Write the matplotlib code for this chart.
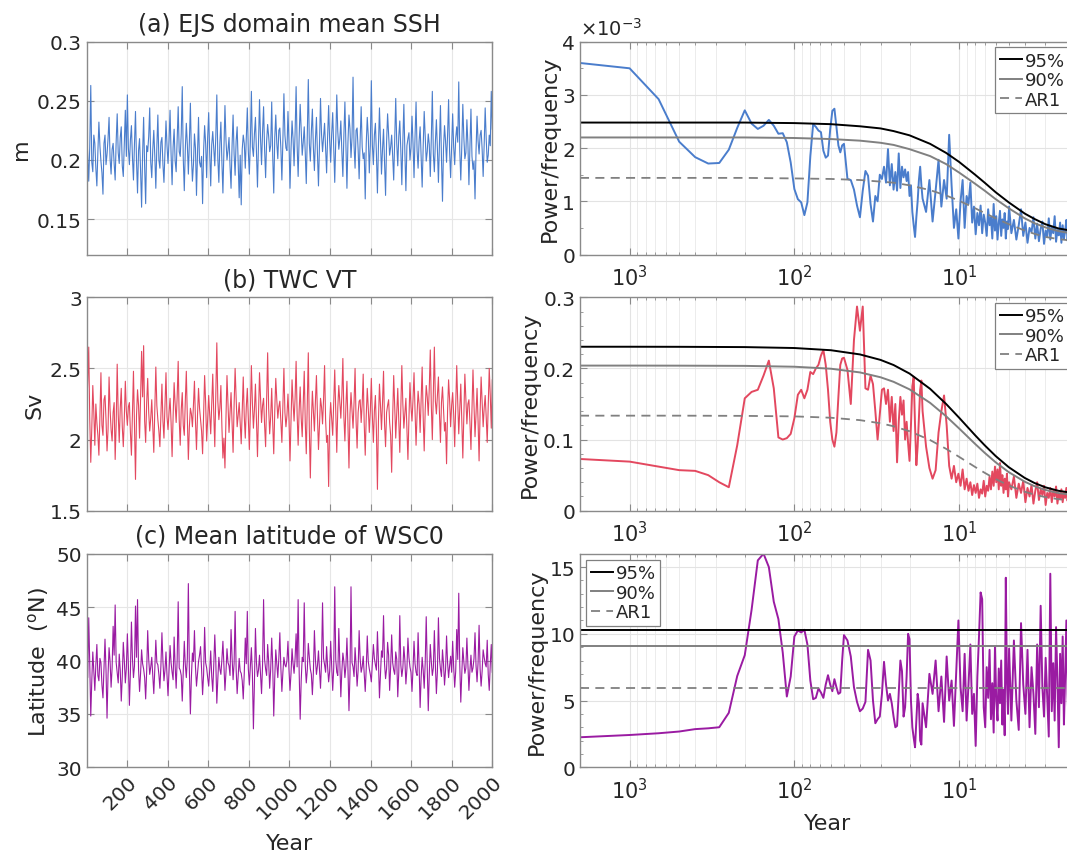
import numpy as np
import matplotlib
matplotlib.use('Agg')
import matplotlib.pyplot as plt
from matplotlib.ticker import MultipleLocator, FixedLocator, FuncFormatter, LogLocator, NullFormatter

# ---- time series (one value per ~5 yr) ----
# (a) EJS domain mean SSH, in mm (divided by 1000 below)
ssh_mm = [225, 204, 182, 211, 263, 198, 190, 221, 214, 193, 178, 207, 232, 212, 199, 189, 171, 214, 221, 196,
          205, 218, 236, 201, 188, 209, 214, 197, 183, 216, 239, 206, 197, 219, 228, 195, 186, 213, 242, 203,
          255, 210, 196, 217, 229, 202, 183, 214, 241, 199, 172, 208, 218, 191, 160, 205, 236, 194, 163, 212,
          207, 220, 244, 198, 185, 209, 225, 203, 176, 211, 238, 200, 193, 215, 219, 196, 181, 206, 233, 212,
          197, 216, 242, 205, 179, 211, 226, 199, 190, 218, 245, 207, 203, 222, 262, 201, 174, 209, 231, 213,
          188, 215, 248, 204, 182, 196, 222, 210, 170, 205, 236, 198, 194, 203, 163, 208, 229, 214, 185, 219,
          240, 206, 178, 213, 224, 209, 195, 220, 255, 201, 181, 214, 232, 198, 172, 211, 246, 217, 200, 208,
          219, 195, 176, 212, 238, 205, 187, 216, 228, 197, 168, 204, 162, 209, 221, 214, 193, 218, 244, 207,
          188, 215, 258, 211, 203, 222, 236, 207, 177, 213, 251, 218, 196, 224, 245, 209, 185, 216, 230, 220,
          207, 212, 249, 203, 172, 219, 238, 214, 201, 225, 227, 210, 183, 217, 256, 221, 210, 208, 241, 215,
          176, 209, 233, 218, 195, 223, 262, 212, 186, 219, 247, 226, 204, 215, 228, 206, 180, 221, 268, 214,
          199, 224, 243, 210, 191, 217, 236, 205, 178, 213, 252, 222, 207, 219, 231, 211, 189, 220, 246, 216,
          198, 222, 240, 210, 181, 216, 255, 224, 209, 218, 233, 207, 186, 221, 249, 213, 176, 215, 238, 226,
          202, 219, 270, 212, 193, 225, 227, 209, 184, 217, 245, 211, 201, 206, 167, 214, 236, 220, 189, 212,
          267, 213, 196, 221, 231, 205, 172, 212, 244, 217, 188, 209, 226, 198, 170, 215, 239, 222, 204, 211,
          221, 203, 183, 219, 252, 214, 195, 220, 233, 208, 179, 216, 247, 206, 174, 212, 218, 223, 200, 210,
          237, 214, 185, 220, 249, 208, 193, 216, 228, 202, 177, 211, 241, 219, 199, 207, 222, 213, 186, 218,
          258, 205, 190, 215, 234, 209, 181, 212, 246, 201, 165, 210, 229, 216, 198, 221, 251, 207, 185, 213,
          239, 211, 196, 218, 228, 215, 266, 208, 183, 212, 247, 219, 201, 206, 234, 214, 179, 210, 243, 203,
          192, 199, 167, 208, 237, 216, 205, 221, 225, 209, 186, 213, 244, 218, 198, 204, 221, 212, 258, 226]

# (b) TWC VT, in 0.01 Sv
twc_csv = [222, 241, 265, 214, 184, 208, 238, 219, 196, 225, 212, 203, 189, 216, 247, 210, 203, 228, 231, 214,
           192, 207, 244, 221, 207, 199, 219, 226, 186, 211, 253, 218, 198, 222, 236, 209, 195, 215, 241, 220,
           210, 223, 226, 205, 189, 218, 248, 211, 172, 217, 235, 224, 201, 229, 262, 230, 266, 213, 198, 226,
           243, 219, 206, 215, 228, 210, 191, 221, 251, 224, 214, 206, 195, 218, 239, 213, 201, 225, 247, 216,
           207, 219, 229, 212, 188, 216, 240, 225, 212, 230, 255, 214, 196, 221, 233, 210, 203, 227, 248, 215,
           186, 209, 222, 218, 209, 224, 241, 213, 193, 217, 236, 222, 214, 206, 190, 219, 245, 226, 199, 214,
           231, 217, 204, 225, 246, 218, 195, 232, 268, 227, 214, 222, 238, 209, 187, 201, 180, 215, 245, 226,
           205, 219, 233, 212, 191, 224, 250, 229, 209, 217, 226, 211, 197, 220, 244, 216, 201, 223, 236, 214,
           193, 219, 252, 226, 208, 221, 239, 214, 188, 218, 247, 229, 212, 224, 229, 210, 195, 227, 261, 222,
           204, 216, 236, 211, 190, 220, 243, 228, 215, 223, 227, 213, 198, 225, 250, 219, 209, 217, 232, 214,
           185, 214, 242, 226, 213, 229, 255, 218, 196, 221, 237, 215, 202, 226, 248, 212, 190, 224, 261, 207,
           173, 212, 234, 220, 206, 227, 245, 217, 193, 210, 229, 223, 211, 228, 252, 214, 198, 203, 167, 213,
           226, 214, 203, 225, 249, 219, 191, 222, 238, 227, 215, 231, 257, 216, 199, 224, 241, 210, 180, 218,
           233, 221, 208, 226, 250, 213, 194, 219, 227, 228, 212, 225, 246, 211, 189, 217, 236, 222, 205, 220,
           243, 217, 198, 220, 231, 206, 165, 213, 239, 224, 207, 226, 248, 211, 195, 219, 224, 228, 212, 203,
           177, 216, 245, 222, 201, 218, 236, 214, 191, 221, 252, 225, 208, 219, 229, 207, 186, 215, 240, 223,
           213, 228, 247, 220, 196, 218, 234, 225, 205, 229, 251, 216, 192, 221, 238, 230, 217, 236, 263, 224,
           200, 233, 265, 227, 218, 231, 244, 219, 198, 226, 237, 222, 206, 212, 183, 220, 242, 228, 209, 224,
           233, 218, 195, 223, 252, 226, 204, 221, 239, 214, 187, 216, 246, 229, 211, 225, 228, 212, 193, 220,
           249, 224, 202, 218, 236, 213, 185, 219, 244, 227, 209, 222, 231, 216, 198, 225, 250, 231, 208, 242]

# (c) mean latitude of WSC0, in 0.1 degN
lat_dd = [392, 384, 440, 397, 348, 381, 408, 389, 372, 396, 415, 386, 381, 402, 398, 377, 365, 394, 420, 391,
          346, 387, 412, 399, 375, 393, 432, 405, 452, 398, 388, 379, 406, 391, 362, 385, 417, 400, 379, 393,
          425, 396, 358, 389, 436, 402, 384, 395, 451, 403, 457, 392, 371, 388, 410, 397, 392, 384, 364, 390,
          428, 401, 387, 394, 403, 386, 369, 392, 419, 398, 396, 387, 374, 395, 426, 399, 381, 391, 408, 386,
          367, 390, 414, 398, 389, 382, 422, 395, 374, 401, 455, 393, 391, 386, 362, 389, 418, 396, 384, 402,
          472, 391, 350, 385, 407, 399, 428, 394, 376, 388, 399, 405, 413, 392, 368, 387, 431, 398, 393, 384,
          376, 391, 409, 385, 371, 396, 424, 399, 360, 383, 403, 392, 387, 401, 418, 394, 372, 389, 411, 398,
          395, 386, 429, 403, 382, 397, 446, 392, 369, 385, 402, 390, 388, 381, 364, 388, 421, 397, 446, 392,
          377, 394, 412, 388, 336, 379, 430, 398, 385, 391, 405, 387, 369, 396, 457, 401, 392, 386, 415, 399,
          374, 392, 421, 395, 348, 384, 410, 397, 384, 402, 426, 393, 371, 389, 403, 396, 394, 400, 418, 391,
          372, 388, 411, 397, 388, 402, 425, 394, 457, 390, 345, 381, 403, 399, 454, 396, 379, 391, 416, 403,
          392, 387, 368, 389, 428, 401, 387, 395, 409, 392, 374, 398, 454, 402, 396, 389, 413, 394, 380, 390,
          418, 396, 372, 393, 469, 401, 389, 386, 430, 397, 366, 390, 407, 399, 384, 395, 421, 392, 353, 387,
          469, 398, 394, 385, 412, 396, 376, 391, 428, 402, 389, 394, 404, 388, 371, 393, 423, 399, 392, 387,
          380, 398, 415, 402, 396, 391, 427, 399, 365, 388, 409, 403, 442, 397, 383, 392, 417, 405, 372, 394,
          424, 398, 391, 387, 408, 401, 366, 389, 442, 396, 385, 393, 413, 400, 378, 392, 421, 403, 394, 389,
          371, 392, 418, 397, 389, 386, 426, 395, 356, 384, 403, 391, 374, 398, 441, 394, 353, 387, 415, 399,
          386, 393, 428, 396, 369, 390, 440, 402, 392, 385, 410, 397, 377, 391, 423, 398, 384, 395, 404, 389,
          418, 394, 375, 390, 429, 401, 463, 396, 361, 388, 412, 399, 388, 393, 421, 397, 372, 391, 405, 389,
          393, 402, 426, 395, 380, 398, 433, 392, 376, 390, 410, 403, 397, 394, 419, 387, 372, 396, 415, 389]

# ---- spectra: harmonic number k of a 2000-yr record (period = 2000/k) ----
harm = np.r_[np.arange(1, 41), np.arange(42, 121, 2), np.arange(126, 403, 6), np.arange(415, 1001, 15)]

# (a) SSH power/frequency, x1e-3
psd_ssh = [3.60, 3.50, 2.92, 2.12, 1.83, 1.71, 1.72, 1.97, 2.38, 2.71,
           2.46, 2.36, 2.42, 2.53, 2.42, 2.27, 2.28, 2.11, 1.73, 1.23,
           1.04, 0.98, 0.74, 0.98, 1.85, 2.45, 2.40, 2.33, 2.30, 1.95,
           1.82, 1.86, 2.35, 2.70, 2.74, 2.40, 2.05, 1.92, 2.05, 2.08,
           1.42, 1.40, 1.22, 0.92, 0.70, 1.20, 1.57, 1.48, 0.95, 0.62,
           1.10, 1.00, 1.50, 1.42, 1.65, 1.35, 1.98, 1.30, 1.70, 1.22,
           1.55, 1.20, 1.90, 1.25, 1.65, 1.45, 1.60, 1.38, 1.55, 1.10,
           1.30, 0.80, 0.55, 0.33, 0.70, 1.00, 1.40, 1.65, 1.30, 1.05,
           0.80, 1.40, 0.62, 1.20, 1.78, 0.90, 1.40, 1.05, 2.25, 1.30,
           0.50, 0.85, 0.30, 1.00, 1.40, 0.50, 1.10, 0.95, 1.35, 0.60,
           0.90, 0.38, 0.78, 0.55, 0.92, 0.40, 0.75, 0.60, 0.35, 0.85,
           0.55, 0.70, 0.30, 0.95, 0.45, 0.72, 0.28, 0.60, 0.82, 0.35,
           0.66, 0.50, 0.78, 0.30, 0.62, 0.48, 0.90,
           0.40, 0.65, 0.28, 0.55, 0.85, 0.35, 0.60, 0.22, 0.50, 0.42,
           0.70, 0.30, 0.58, 0.25, 0.48, 0.62, 0.20, 0.45, 0.33, 0.68,
           0.28, 0.52, 0.40, 0.72, 0.24, 0.46, 0.36, 0.60, 0.22, 0.55,
           0.30, 0.44, 0.65, 0.26, 0.50, 0.38, 0.58, 0.20, 0.45, 0.35]

# (b) TWC power/frequency
psd_twc = [0.0727, 0.069, 0.062, 0.057, 0.056, 0.050, 0.040, 0.033, 0.092, 0.158,
           0.167, 0.170, 0.190, 0.211, 0.172, 0.103, 0.100, 0.102, 0.108, 0.130,
           0.163, 0.170, 0.158, 0.170, 0.195, 0.192, 0.200, 0.205, 0.218, 0.226,
           0.205, 0.170, 0.125, 0.100, 0.090, 0.110, 0.160, 0.205, 0.214, 0.215,
           0.198, 0.150, 0.240, 0.287, 0.253, 0.287, 0.172, 0.170, 0.190, 0.178,
           0.140, 0.100, 0.135, 0.170, 0.172, 0.150, 0.170, 0.125, 0.160, 0.112,
           0.150, 0.068, 0.125, 0.160, 0.135, 0.155, 0.100, 0.125, 0.095, 0.070,
           0.120, 0.175, 0.188, 0.120, 0.064, 0.090, 0.130, 0.170, 0.183, 0.140,
           0.090, 0.060, 0.045, 0.057, 0.110, 0.140, 0.162, 0.120, 0.063, 0.045,
           0.063, 0.040, 0.052, 0.035, 0.058, 0.030, 0.045, 0.028, 0.040, 0.022,
           0.036, 0.025, 0.038, 0.018, 0.030, 0.024, 0.042, 0.020, 0.035, 0.028,
           0.048, 0.030, 0.055, 0.035, 0.062, 0.040, 0.058, 0.030, 0.067, 0.035,
           0.050, 0.025, 0.045, 0.030, 0.052, 0.020, 0.040,
           0.030, 0.048, 0.018, 0.038, 0.025, 0.042, 0.012, 0.032, 0.020, 0.036,
           0.010, 0.028, 0.040, 0.015, 0.030, 0.022, 0.035, 0.008, 0.025, 0.018,
           0.032, 0.012, 0.028, 0.020, 0.034, 0.010, 0.024, 0.016, 0.030, 0.012,
           0.026, 0.018, 0.032, 0.014, 0.025, 0.010, 0.022, 0.028, 0.015, 0.020]

# (c) WSC0 latitude power/frequency
psd_lat = [2.25, 2.42, 2.55, 2.68, 2.86, 2.92, 3.00, 4.08, 6.84, 8.40,
           11.8, 15.5, 16.0, 15.0, 12.4, 11.1, 8.6, 5.3, 6.8, 9.8,
           10.25, 10.1, 10.3, 9.2, 6.5, 5.1, 5.2, 5.9, 5.6, 5.2,
           6.2, 6.9, 6.2, 5.7, 6.6, 6.0, 5.5, 5.6, 8.0, 9.9,
           9.5, 8.3, 6.0, 4.9, 4.2, 4.4, 4.9, 8.8, 8.0, 5.0,
           3.3, 3.6, 3.8, 5.5, 7.9, 6.2, 5.0, 5.5, 4.8, 3.8,
           3.0, 3.1, 5.5, 8.0, 7.2, 3.8, 4.5, 6.8, 10.0, 9.6,
           5.0, 3.0, 2.2, 1.5, 3.5, 5.5, 4.8, 2.0, 1.7, 4.8,
           3.0, 7.0, 5.5, 8.0, 4.2, 6.8, 3.4, 8.3, 5.0, 6.5,
           3.1, 7.2, 11.0, 6.0, 4.2, 8.5, 3.5, 6.2, 9.2, 4.0,
           5.5, 1.6, 6.8, 9.8, 13.1, 12.6, 4.5, 3.0, 7.5, 5.2,
           8.8, 3.6, 6.3, 2.6, 9.0, 5.0, 3.5, 7.4, 4.8, 8.0,
           3.2, 5.8, 2.4, 14.2, 6.5, 4.0, 8.9,
           3.5, 9.5, 5.0, 2.8, 10.8, 6.2, 4.0, 8.8, 3.0, 7.5,
           5.5, 2.5, 9.2, 4.5, 12.1, 6.0, 3.8, 8.2, 5.2, 2.3,
           14.5, 4.2, 7.8, 3.5, 10.5, 6.5, 1.5, 8.5, 4.8, 9.8,
           3.2, 6.8, 11.0, 5.5, 2.8, 8.0, 4.5, 9.0, 6.2, 3.8]

# significance curves (95%, 90%) and AR1 red-noise level, read at these periods
thr_period = [2000, 1000, 500, 200, 100, 60, 40, 30, 25, 20, 15, 12, 10, 8, 7, 6, 5, 4, 3.5, 3, 2.5, 2.2, 2]
ssh_95 = [2.48, 2.48, 2.48, 2.48, 2.47, 2.45, 2.41, 2.37, 2.32, 2.24, 2.08, 1.91, 1.74, 1.50, 1.35, 1.17, 0.98, 0.77, 0.67, 0.57, 0.49, 0.46, 0.46]
ssh_90 = [2.20, 2.20, 2.20, 2.20, 2.19, 2.17, 2.14, 2.10, 2.06, 1.98, 1.85, 1.70, 1.54, 1.33, 1.20, 1.04, 0.87, 0.68, 0.59, 0.51, 0.44, 0.41, 0.40]
ssh_ar1 = [1.44, 1.44, 1.44, 1.44, 1.43, 1.42, 1.40, 1.37, 1.35, 1.30, 1.21, 1.11, 1.01, 0.87, 0.78, 0.68, 0.57, 0.45, 0.39, 0.33, 0.29, 0.27, 0.26]
twc_95 = [0.2305, 0.2305, 0.2304, 0.2300, 0.2287, 0.2256, 0.2197, 0.2120, 0.2048, 0.1928, 0.1713, 0.1501, 0.1307, 0.1061, 0.0920, 0.0768, 0.0612, 0.0461, 0.0391, 0.0329, 0.0280, 0.0261, 0.0256]
twc_90 = [0.204, 0.204, 0.2039, 0.2036, 0.2024, 0.1996, 0.1944, 0.1876, 0.1812, 0.1706, 0.1516, 0.1328, 0.1156, 0.0939, 0.0814, 0.0680, 0.0542, 0.0408, 0.0346, 0.0292, 0.0248, 0.0231, 0.0227]
twc_ar1 = [0.1336, 0.1336, 0.1336, 0.1333, 0.1326, 0.1307, 0.1273, 0.1229, 0.1187, 0.1117, 0.0993, 0.0870, 0.0757, 0.0615, 0.0533, 0.0445, 0.0355, 0.0267, 0.0227, 0.0191, 0.0162, 0.0151, 0.0148]
lat_period = [2000, 2]
lat_95 = [10.25, 10.25]
lat_90 = [9.05, 9.05]
lat_ar1 = [5.95, 5.95]

blue = '#4a7dcc'
red = '#e3485f'
purple = '#9a1ba2'
gray = '#808080'
spine_c = '#8a8a8a'
txt_c = '#262626'

plt.rcParams['font.family'] = ['DejaVu Sans']
plt.rcParams['text.color'] = txt_c
plt.rcParams['axes.labelcolor'] = txt_c
plt.rcParams['xtick.color'] = spine_c
plt.rcParams['ytick.color'] = spine_c
plt.rcParams['xtick.labelcolor'] = txt_c
plt.rcParams['ytick.labelcolor'] = txt_c

W, H = 1067, 853
fig = plt.figure(figsize=(W / 100, H / 100), dpi=100)


def box(x0, y0, x1, y1):
    return [x0 / W, 1 - y1 / H, (x1 - x0) / W, (y1 - y0) / H]


rows = [(42.7, 255.5), (298.3, 511.7), (554.7, 768.3)]
left = [fig.add_axes(box(86.7, r[0], 492.3, r[1])) for r in rows]
right = [fig.add_axes(box(580, r[0], 1074.3, r[1])) for r in rows]

fmt = FuncFormatter(lambda v, p: '%g' % round(v, 6))


def style(ax):
    for s in ax.spines.values():
        s.set_color(spine_c)
        s.set_linewidth(1.0)
    ax.tick_params(which='both', direction='in', top=True, right=True, labelsize=14.5)
    ax.tick_params(which='major', length=5)
    ax.tick_params(which='minor', length=2.5)


# ---- left column: time series ----
series = [(np.array(ssh_mm) / 1000, blue, (0.12, 0.3), [0.15, 0.2, 0.25, 0.3], 'm', '(a) EJS domain mean SSH'),
          (np.array(twc_csv) / 100, red, (1.5, 3), [1.5, 2, 2.5, 3], 'Sv', '(b) TWC VT'),
          (np.array(lat_dd) / 10, purple, (30, 50), [30, 35, 40, 45, 50], r'Latitude  ($^{\rm o}$N)',
           '(c) Mean latitude of WSC0')]
for i, (ax, (vals, col, ylim, yt, ylab, title)) in enumerate(zip(left, series)):
    yrs = np.linspace(1, 2000, len(vals))
    ax.plot(yrs, vals, color=col, lw=0.8)
    ax.set_xlim(1, 2000)
    ax.set_ylim(*ylim)
    ax.xaxis.set_major_locator(FixedLocator(list(range(200, 2001, 200))))
    ax.yaxis.set_major_locator(FixedLocator(yt))
    ax.yaxis.set_major_formatter(fmt)
    ax.grid(True, color='#e6e6e6', lw=0.8)
    ax.set_axisbelow(True)
    style(ax)
    ax.set_ylabel(ylab, fontsize=16)
    ax.set_title(title, fontsize=17, pad=8)
    if i < 2:
        ax.set_xticklabels([])
    else:
        for lab in ax.get_xticklabels():
            lab.set_rotation(45)
            lab.set_ha('right')
            lab.set_va('top')
            lab.set_rotation_mode('anchor')
        ax.set_xlabel('Year', fontsize=16, labelpad=8)

# ---- right column: spectra ----
period = 2000.0 / harm
spec = [(np.array(psd_ssh), blue, 4.0, 1, 0.5, thr_period, ssh_95, ssh_90, ssh_ar1, 'upper right'),
        (np.array(psd_twc), red, 0.3, 0.1, 0.02, thr_period, twc_95, twc_90, twc_ar1, 'upper right'),
        (np.array(psd_lat), purple, 16.0, 5, 1, lat_period, lat_95, lat_90, lat_ar1, 'upper left')]
for i, (ax, (vals, col, ytop, ymaj, ymin, tp, c95, c90, car, loc)) in enumerate(zip(right, spec)):
    ax.plot(period, vals, color=col, lw=1.4)
    ax.plot(tp, c95, color='k', lw=1.4, label='95%')
    ax.plot(tp, c90, color=gray, lw=1.4, label='90%')
    ax.plot(tp, car, color=gray, lw=1.3, ls=(0, (5, 3.5)), label='AR1')
    ax.set_xscale('log')
    ax.set_xlim(2000, 2)
    ax.set_ylim(0, ytop)
    ax.xaxis.set_major_locator(FixedLocator([1000, 100, 10]))
    ax.xaxis.set_minor_locator(LogLocator(base=10, subs=np.arange(2, 10)))
    ax.xaxis.set_minor_formatter(NullFormatter())
    ax.yaxis.set_major_locator(MultipleLocator(ymaj))
    ax.yaxis.set_minor_locator(MultipleLocator(ymin))
    ax.yaxis.set_major_formatter(fmt)
    ax.grid(True, which='major', color='#e3e3e3', lw=0.8)
    ax.grid(True, which='minor', axis='x', color='#ececec', lw=0.7)
    ax.set_axisbelow(True)
    style(ax)
    ax.tick_params(axis='x', which='major', pad=7, labelsize=15)
    ax.set_ylabel('Power/frequency', fontsize=16, labelpad=2)
    if loc == 'upper right':
        anchor = (1 - 4.5 / 494.3, 1 - 5.5 / 213)
    else:
        anchor = (6 / 494.3, 1 - 6 / 213)
    leg = ax.legend(loc=loc, bbox_to_anchor=anchor, borderaxespad=0, fontsize=13, handlelength=1.25,
                    handletextpad=0.15, labelspacing=0.08, borderpad=0.25, fancybox=False,
                    framealpha=1, edgecolor=gray)
    leg.get_frame().set_linewidth(0.9)
    if i == 2:
        ax.set_xlabel('Year', fontsize=16, labelpad=8)

right[0].text(0.0, 1.015, r'$\times$10$^{\mathdefault{-3}}$', transform=right[0].transAxes, fontsize=14,
              ha='left', va='bottom')

fig.savefig('out.png', dpi=100)
